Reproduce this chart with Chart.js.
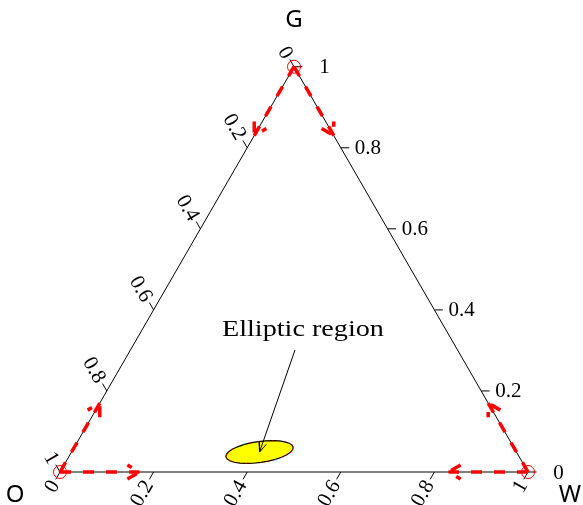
<!DOCTYPE html>
<html>
<head>
<meta charset="utf-8">
<script src="https://cdn.jsdelivr.net/npm/chart.js@4/dist/chart.umd.min.js"></script>
<style>
  html, body { margin: 0; padding: 0; background: #fff; }
  #wrap { width: 583px; height: 505px; }
</style>
</head>
<body>
<div id="wrap"><canvas id="grafico" width="583" height="505"></canvas></div>
<script>
//Vertices of the simplex, compositions are always written [O, W, G]
var vertexNames = ['O', 'W', 'G'];
var vertexComps = [[1, 0, 0], [0, 1, 0], [0, 0, 1]];

//Tick values on every side of the triangle
var tickValues = [0, 0.2, 0.4, 0.6, 0.8, 1];
var tickLabels = ['0', '0.2', '0.4', '0.6', '0.8', '1'];

//Red dashed arrows leaving each vertex along the sides
var arrowStart = [[1, 0, 0], [1, 0, 0], [0, 1, 0], [0, 1, 0], [0, 0, 1], [0, 0, 1]];
var arrowEnd = [[0.83, 0.17, 0], [0.83, 0, 0.17], [0.17, 0.83, 0], [0, 0.83, 0.17], [0.17, 0, 0.83], [0, 0.17, 0.83]];

//Elliptic region: centre, half axes and tilt (degrees)
var ellipseCenter = [0.549, 0.4017, 0.0493];
var ellipseAxes = [0.0726, 0.0225];
var ellipseTilt = 8;
var ellipseSteps = 28;

//Annotation text and the arrow pointing at the region
var noteText = 'Elliptic region';
var notePos = [0.3058, 0.344, 0.3503];
var noteArrowFrom = [0.3474, 0.3516, 0.301];

var H = Math.sqrt(3) / 2;

//Composition -> plane coordinates
function toXY(c) {
  var s = c[0] + c[1] + c[2];
  var w = c[1] / s, g = c[2] / s;
  return { x: w + g / 2, y: g * H };
}

//Arrow head wings (polyline wing - tip - wing) for an arrow from a to b
function arrowHead(a, b, len, ang) {
  var dx = b.x - a.x, dy = b.y - a.y;
  var d = Math.sqrt(dx * dx + dy * dy);
  dx /= d; dy /= d;
  var r = ang * Math.PI / 180;
  var c = Math.cos(r), s = Math.sin(r);
  var w1 = { x: b.x - len * (dx * c - dy * s), y: b.y - len * (dx * s + dy * c) };
  var w2 = { x: b.x - len * (dx * c + dy * s), y: b.y - len * (-dx * s + dy * c) };
  return [w1, { x: b.x, y: b.y }, w2];
}

var gap = { x: NaN, y: NaN };

//Triangle sides
var sides = vertexComps.map(toXY);
sides.push(toXY(vertexComps[0]));

//Tick marks: bottom (W share), left (O share), right (G share)
var tickLen = 0.018;
var tickDirs = {
  bottom: { x: -0.5, y: -H },
  left: { x: -0.5, y: H },
  right: { x: 1, y: 0 }
};
function axisPoint(side, v) {
  if (side == 'bottom') return toXY([1 - v, v, 0]);
  if (side == 'left') return toXY([v, 0, 1 - v]);
  return toXY([0, 1 - v, v]);
}
var tickSegs = [];
['bottom', 'left', 'right'].forEach(function (side) {
  tickValues.forEach(function (v) {
    var p = axisPoint(side, v);
    tickSegs.push(p);
    tickSegs.push({ x: p.x + tickLen * tickDirs[side].x, y: p.y + tickLen * tickDirs[side].y });
    tickSegs.push(gap);
  });
});

//Red arrows: shafts and heads
var redShafts = [];
var redHeads = [];
for (var i = 0; i < arrowStart.length; i++) {
  var a = toXY(arrowStart[i]), b = toXY(arrowEnd[i]);
  redShafts.push(a, b, gap);
  redHeads = redHeads.concat(arrowHead(a, b, 0.03, 30));
  redHeads.push(gap);
}

//Ellipse outline
var ellC = toXY(ellipseCenter);
var ellipse = [];
var t0 = ellipseTilt * Math.PI / 180;
for (var k = 0; k <= ellipseSteps; k++) {
  var th = 2 * Math.PI * k / ellipseSteps;
  var ex = ellipseAxes[0] * Math.cos(th), ey = ellipseAxes[1] * Math.sin(th);
  ellipse.push({ x: ellC.x + ex * Math.cos(t0) - ey * Math.sin(t0), y: ellC.y + ex * Math.sin(t0) + ey * Math.cos(t0) });
}

//Annotation arrow
var nA = toXY(noteArrowFrom);
var noteArrow = [nA, ellC, gap].concat(arrowHead(nA, ellC, 0.022, 22));

//Texts: tick labels, corner names and the note
var textPlugin = {
  id: 'ternaryText',
  afterDatasetsDraw: function (chart) {
    var ctx = chart.ctx;
    var sx = chart.scales.x, sy = chart.scales.y;
    function px(p) { return { x: sx.getPixelForValue(p.x), y: sy.getPixelForValue(p.y) }; }
    ctx.save();
    ctx.fillStyle = '#000';
    ctx.font = '21px "Liberation Serif", serif';
    ctx.textBaseline = 'middle';
    var rot = { bottom: -Math.PI / 3, left: Math.PI / 3, right: 0 };
    ['bottom', 'left', 'right'].forEach(function (side) {
      tickValues.forEach(function (v, j) {
        var off = tickLen + 0.006;
        if (side == 'right') off += (v == 0 || v == 1) ? 0.03 : 0.006; // corner labels sit further out
        var p = axisPoint(side, v);
        var q = px({ x: p.x + off * tickDirs[side].x, y: p.y + off * tickDirs[side].y });
        ctx.save();
        ctx.translate(q.x, q.y);
        ctx.rotate(rot[side]);
        ctx.textAlign = side == 'right' ? 'left' : 'right';
        ctx.fillText(tickLabels[j], 0, 1);
        ctx.restore();
      });
    });

    //vertex names
    ctx.font = '24px "Noto Sans", sans-serif';
    ctx.textAlign = 'center';
    var nameOff = [[-45, 23], [42, 23], [0, -47]];
    vertexComps.forEach(function (c, j) {
      var q = px(toXY(c));
      ctx.fillText(vertexNames[j], q.x + nameOff[j][0], q.y + nameOff[j][1]);
    });

    //note
    ctx.font = '24px "Liberation Serif", serif';
    var q = px(toXY(notePos));
    var w = ctx.measureText(noteText).width;
    ctx.translate(q.x, q.y);
    ctx.scale(162 / w, 1);
    ctx.fillText(noteText, 0, 0);
    ctx.restore();
  }
};

new Chart(document.getElementById('grafico'), {
  type: 'scatter',
  data: {
    datasets: [
      {
        data: noteArrow, showLine: true, borderColor: '#000', borderWidth: 1,
        pointRadius: 0, order: 1
      },
      {
        data: redShafts, showLine: true, borderColor: '#ff0000', borderWidth: 3.5,
        borderDash: [11, 12], borderCapStyle: 'butt', pointRadius: 0, order: 2
      },
      {
        data: redHeads, showLine: true, borderColor: '#ff0000', borderWidth: 3.5,
        borderDash: [11, 12], borderCapStyle: 'butt', pointRadius: 0, order: 2
      },
      {
        data: vertexComps.map(toXY), showLine: false, pointStyle: 'circle', pointRadius: 6.5,
        pointBorderColor: '#ff0000', pointBackgroundColor: 'rgba(0,0,0,0)', pointBorderWidth: 1, order: 3
      },
      {
        data: ellipse, showLine: true, borderColor: '#000', borderWidth: 1.2,
        backgroundColor: '#ffff00', fill: 'shape', pointRadius: 0.6,
        pointBackgroundColor: '#ff0000', pointBorderWidth: 0, order: 4
      },
      {
        data: tickSegs, showLine: true, borderColor: '#000', borderWidth: 1,
        pointRadius: 0, order: 5
      },
      {
        data: sides, showLine: true, borderColor: '#000', borderWidth: 1,
        pointRadius: 0, order: 5
      }
    ]
  },
  options: {
    responsive: false,
    animation: false,
    layout: { padding: 0, autoPadding: false },
    plugins: { legend: { display: false }, tooltip: { enabled: false } },
    elements: { line: { tension: 0 } },
    scales: {
      x: { type: 'linear', display: false, min: -0.1282, max: 1.1175 },
      y: { type: 'linear', display: false, min: -0.0705, max: 1.0086 }
    }
  },
  plugins: [textPlugin]
});
</script>
</body>
</html>
